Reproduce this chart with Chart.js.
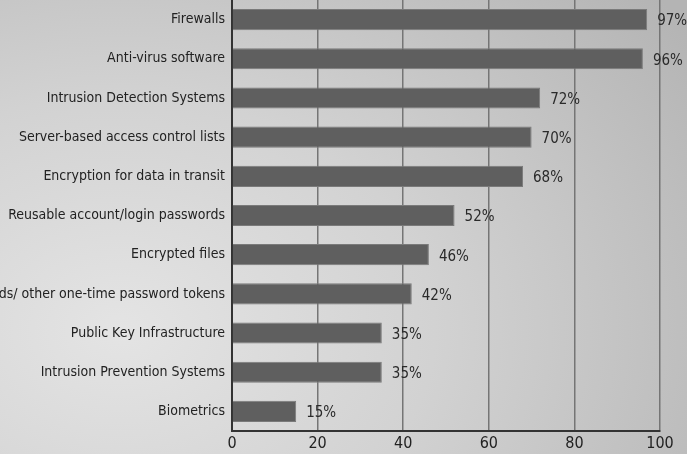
<!DOCTYPE html>
<html>
<head>
<meta charset="utf-8">
<script src="https://cdn.jsdelivr.net/npm/chart.js@4"></script>
<style>
  html, body { margin: 0; padding: 0; }
  body {
    width: 687px; height: 454px; overflow: hidden;
    background: radial-gradient(ellipse 700px 520px at 120px 330px, #e4e4e4 0%, #d2d2d2 45%, #b4b4b4 100%);
  }
  #wrap { position: relative; width: 687px; height: 454px; }
</style>
</head>
<body>
<div id="wrap"><canvas id="secChart"></canvas></div>
<script>
// categories and values
const categories = [
    'Firewalls',
    'Anti-virus software',
    'Intrusion Detection Systems',
    'Server-based access control lists',
    'Encryption for data in transit',
    'Reusable account/login passwords',
    'Encrypted files',
    'Smart cards/ other one-time password tokens',
    'Public Key Infrastructure',
    'Intrusion Prevention Systems',
    'Biometrics'
];
const values = [97, 96, 72, 70, 68, 52, 46, 42, 35, 35, 15];
const xTicks = [0, 20, 40, 60, 80, 100];

const FONT = '"Liberation Sans Narrow", "DejaVu Sans Condensed", sans-serif';

// draws "97%" etc. after each bar
const valueLabels = {
    id: 'valueLabels',
    afterDatasetsDraw(chart) {
        const ctx = chart.ctx;
        const meta = chart.getDatasetMeta(0);
        ctx.save();
        ctx.font = '15px ' + FONT;
        ctx.fillStyle = '#2a2a2a';
        ctx.textAlign = 'left';
        ctx.textBaseline = 'middle';
        meta.data.forEach((bar, i) => {
            ctx.fillText(values[i] + '%', bar.x + 10, bar.y + 2);
        });
        ctx.restore();
    }
};

const data = {
    labels: categories,
    datasets: [{
        data: values,
        backgroundColor: '#5f5f5f',
        borderColor: '#7a7a7a',
        borderWidth: 1,
        barPercentage: 0.54,
        categoryPercentage: 1
    }]
};

const config = {
    type: 'bar',
    data: data,
    options: {
        indexAxis: 'y',
        responsive: false,
        animation: false,
        layout: { autoPadding: false, padding: { top: 0, right: 27, left: 0, bottom: 0 } },
        plugins: {
            legend: { display: false },
            tooltip: { enabled: false }
        },
        scales: {
            x: {
                min: 0,
                max: 100,
                afterBuildTicks(axis) {
                    axis.ticks = xTicks.map(v => ({ value: v }));
                },
                afterFit(axis) {
                    axis.height = 23;
                    axis.paddingLeft = 0;
                    axis.paddingRight = 0;
                },
                grid: {
                    color: '#757575',
                    lineWidth: 1.5,
                    drawTicks: false
                },
                border: { display: true, color: '#333', width: 2 },
                ticks: {
                    color: '#222',
                    padding: 3,
                    font: { family: FONT, size: 16 }
                }
            },
            y: {
                afterFit(axis) {
                    axis.width = 232;
                    axis.paddingTop = 0;
                    axis.paddingBottom = 0;
                },
                grid: { display: false, drawTicks: false },
                border: { display: true, color: '#333', width: 2 },
                ticks: {
                    color: '#222',
                    padding: 7,
                    autoSkip: false,
                    font: { family: FONT, size: 14 }
                }
            }
        }
    },
    plugins: [valueLabels]
};

const canvas = document.getElementById('secChart');
canvas.width = 687;
canvas.height = 454;
const secChart = new Chart(canvas, config);
</script>
</body>
</html>
